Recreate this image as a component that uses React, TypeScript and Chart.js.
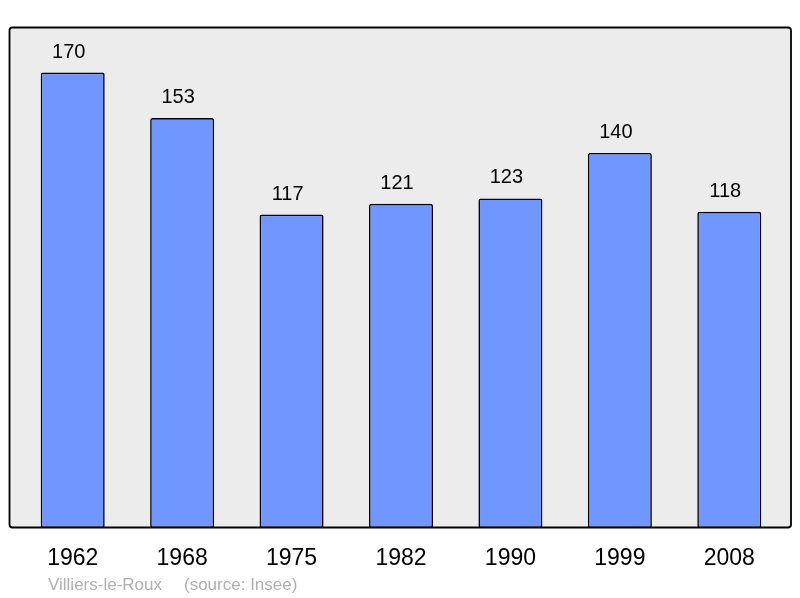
import { useEffect, useRef } from "react";
import { Chart, registerables } from "chart.js";

Chart.register(...registerables);

const years = ["1962", "1968", "1975", "1982", "1990", "1999", "2008"];
const population = [170, 153, 117, 121, 123, 140, 118];
const commune = "Villiers-le-Roux";
const source = "(source: Insee)";

const FONT = "'Liberation Sans', Arial, sans-serif";

export default function App() {
  const chartRef = useRef<HTMLCanvasElement>(null);
  const chartInstance = useRef<Chart | null>(null);

  useEffect(() => {
    document.body.style.margin = "0";
    if (!chartRef.current) return;
    const ctx = chartRef.current.getContext("2d");
    if (!ctx) return;

    if (chartInstance.current) chartInstance.current.destroy();

    // gray rounded panel behind the bars, outline on top
    const panel = {
      id: "panel",
      beforeDatasetsDraw(chart: Chart) {
        const c = chart.ctx;
        c.save();
        c.beginPath();
        c.roundRect(9.5, 27.5, 781.5, 500, 3);
        c.fillStyle = "#ececec";
        c.fill();
        c.restore();
      },
      afterDatasetsDraw(chart: Chart) {
        const c = chart.ctx;
        c.save();
        c.beginPath();
        c.roundRect(9.5, 27.5, 781.5, 500, 3);
        c.strokeStyle = "#000";
        c.lineWidth = 1.8;
        c.stroke();
        c.restore();
      },
    };

    // value labels, year labels and footer
    const labels = {
      id: "labels",
      afterDraw(chart: Chart) {
        const c = chart.ctx;
        const meta = chart.getDatasetMeta(0);
        c.save();
        c.fillStyle = "#000";
        c.textAlign = "center";
        c.textBaseline = "alphabetic";
        c.font = `20px ${FONT}`;
        meta.data.forEach((bar: any, i: number) => {
          c.fillText(String(population[i]), bar.x - 4, bar.y - 15);
        });
        c.font = `23px ${FONT}`;
        years.forEach((y, i) => {
          c.fillText(y, chart.scales.x.getPixelForValue(i), 565);
        });
        c.fillStyle = "#b0b0b0";
        c.textAlign = "left";
        c.font = `17px ${FONT}`;
        c.fillText(commune, 48, 590);
        c.fillText(source, 184, 590);
        c.restore();
      },
    };

    chartInstance.current = new Chart(ctx, {
      type: "bar",
      data: {
        labels: years,
        datasets: [
          {
            data: population,
            backgroundColor: "#7097ff",
            borderColor: "#000",
            borderWidth: 1.6,
            borderRadius: 2,
            borderSkipped: false,
            categoryPercentage: 1,
            barPercentage: 0.585,
          },
        ],
      },
      options: {
        responsive: false,
        animation: false,
        layout: { padding: { left: 18, right: 16, top: 27, bottom: 70 } },
        plugins: { legend: { display: false }, tooltip: { enabled: false } },
        scales: {
          x: { display: false },
          y: { display: false, min: 0, max: 187 },
        },
      },
      plugins: [panel, labels],
    });

    return () => {
      if (chartInstance.current) {
        chartInstance.current.destroy();
        chartInstance.current = null;
      }
    };
  }, []);

  return (
    <div style={{ width: 800, height: 598, background: "#fff" }}>
      <canvas ref={chartRef} width={800} height={598}></canvas>
    </div>
  );
}
